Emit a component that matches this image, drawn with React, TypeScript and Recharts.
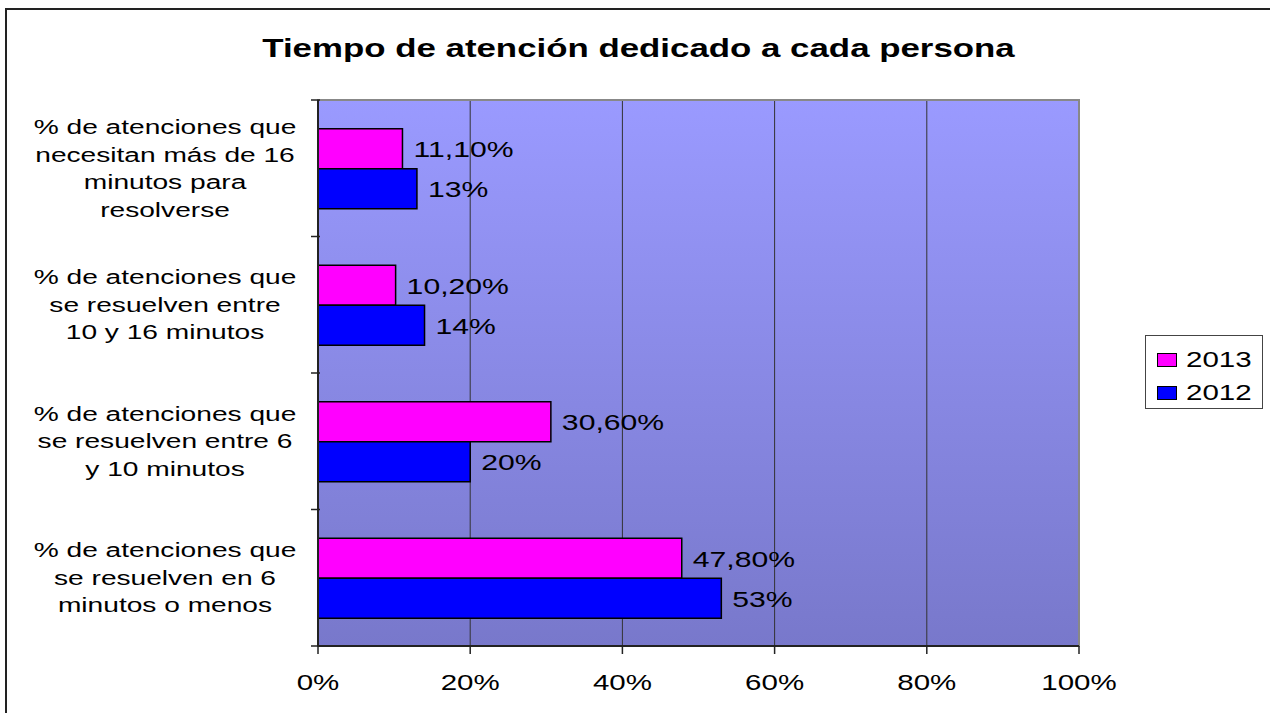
import {
  Bar,
  BarChart,
  CartesianGrid,
  LabelList,
  Legend,
  ReferenceArea,
  XAxis,
  YAxis,
} from 'recharts';

const categoryLines = [
  ['% de atenciones que', 'necesitan más de 16', 'minutos para', 'resolverse'],
  ['% de atenciones que', 'se resuelven entre', '10 y 16 minutos'],
  ['% de atenciones que', 'se resuelven entre 6', 'y 10 minutos'],
  ['% de atenciones que', 'se resuelven en 6', 'minutos o menos'],
];
const values2013 = [11.1, 10.2, 30.6, 47.8];
const values2012 = [13, 14, 20, 53];
const xTicks = [0, 20, 40, 60, 80, 100];
const legendOrder = ['2013', '2012'];

const data = categoryLines.map((lines, i) => ({
  name: lines.join('\n'),
  y2013: values2013[i],
  y2012: values2012[i],
}));

const FONT = '"Liberation Sans", Arial, sans-serif';
// the reference is stretched horizontally
const SX = 1.34;
const W = 1270;
const H = 713;
const MARGIN = { top: 100, right: 191, bottom: 0, left: 0 };
const Y_AXIS_W = 318;
const X_AXIS_H = 67;
const PLOT_H = H - MARGIN.top - X_AXIS_H;
const BAND = PLOT_H / categoryLines.length;
const LABEL_CX = 165;
const LINE_H = 27.5;

function YTick(props: any) {
  const { x, y, payload, index } = props;
  const lines = String(payload.value).split('\n');
  const top = y - ((lines.length - 1) * LINE_H) / 2;
  const axisX = x + 10;
  return (
    <g>
      <line x1={axisX - 9} x2={axisX} y1={y - BAND / 2} y2={y - BAND / 2} stroke="#222" strokeWidth={1.5} />
      {index === categoryLines.length - 1 && (
        <line x1={axisX - 9} x2={axisX} y1={y + BAND / 2} y2={y + BAND / 2} stroke="#222" strokeWidth={1.5} />
      )}
      {lines.map((line, i) => (
        <text
          key={i}
          transform={`translate(${LABEL_CX},${top + i * LINE_H}) scale(${SX},1)`}
          textAnchor="middle"
          dominantBaseline="central"
          fontFamily={FONT}
          fontSize={21}
          fill="#000"
        >
          {line}
        </text>
      ))}
    </g>
  );
}

function XTick(props: any) {
  const { x, y, payload } = props;
  return (
    <text
      transform={`translate(${x},${y + 26}) scale(${SX},1)`}
      textAnchor="middle"
      dominantBaseline="central"
      fontFamily={FONT}
      fontSize={22}
      fill="#000"
    >
      {`${payload.value}%`}
    </text>
  );
}

function makeLabel(format: (v: number) => string) {
  return (props: any) => {
    const { x, y, width, height, value } = props;
    return (
      <text
        transform={`translate(${x + width + 11},${y + height / 2 + 1}) scale(${SX},1)`}
        textAnchor="start"
        dominantBaseline="central"
        fontFamily={FONT}
        fontSize={22.5}
        fill="#000"
      >
        {format(value)}
      </text>
    );
  };
}

const fmt2013 = (v: number) => `${v.toFixed(2).replace('.', ',')}%`;
const fmt2012 = (v: number) => `${v}%`;

function LegendBox(props: any) {
  const items = [...(props.payload || [])].sort(
    (a: any, b: any) => legendOrder.indexOf(a.value) - legendOrder.indexOf(b.value),
  );
  return (
    <div
      style={{
        width: 118,
        height: 74,
        boxSizing: 'border-box',
        border: '1.5px solid #444',
        background: '#fff',
        paddingTop: 9,
        paddingLeft: 11,
      }}
    >
      {items.map((entry: any) => (
        <div key={entry.value} style={{ display: 'flex', alignItems: 'center', height: 37, marginTop: -4 }}>
          <span
            style={{
              display: 'inline-block',
              width: 18,
              height: 12,
              background: entry.color,
              border: '1.5px solid #000',
            }}
          />
          <span
            style={{
              display: 'inline-block',
              marginLeft: 9,
              fontFamily: FONT,
              fontSize: 22,
              lineHeight: '22px',
              transform: `scaleX(${SX})`,
              transformOrigin: 'left center',
            }}
          >
            {entry.value}
          </span>
        </div>
      ))}
    </div>
  );
}

export default function App() {
  return (
    <div
      style={{
        position: 'absolute',
        left: 0,
        top: 0,
        width: W,
        height: H,
        overflow: 'hidden',
        background: '#fff',
      }}
    >
      <div
        style={{
          position: 'absolute',
          left: 5,
          top: 8,
          width: W + 50,
          height: H + 50,
          border: '2px solid #222',
        }}
      />
      <div
        style={{
          position: 'absolute',
          left: 0,
          top: 35,
          width: 1277,
          textAlign: 'center',
          fontFamily: FONT,
          fontWeight: 'bold',
          fontSize: 26,
          lineHeight: '26px',
          transform: `scaleX(${SX})`,
        }}
      >
        Tiempo de atención dedicado a cada persona
      </div>
      <div style={{ position: 'absolute', left: 0, top: 0 }}>
        <BarChart
          width={W}
          height={H}
          data={data}
          layout="vertical"
          margin={MARGIN}
          barCategoryGap="21%"
          barGap={0}
        >
          <defs>
            <linearGradient id="plotBg" x1="0" y1="0" x2="0" y2="1">
              <stop offset="0%" stopColor="#9a9aff" />
              <stop offset="100%" stopColor="#7878cb" />
            </linearGradient>
          </defs>
          <CartesianGrid
            horizontal={false}
            vertical
            stroke="#333"
            strokeWidth={1}
            fill="url(#plotBg)"
            fillOpacity={1}
          />
          <ReferenceArea x1={0} x2={100} fill="none" stroke="#888" strokeWidth={2} />
          <XAxis
            type="number"
            domain={[0, 100]}
            ticks={xTicks}
            height={X_AXIS_H}
            tickSize={8}
            tickLine={{ stroke: '#222', strokeWidth: 1.5 }}
            axisLine={{ stroke: '#222', strokeWidth: 2 }}
            tick={<XTick />}
          />
          <YAxis
            type="category"
            dataKey="name"
            width={Y_AXIS_W}
            interval={0}
            tickLine={false}
            axisLine={{ stroke: '#222', strokeWidth: 2 }}
            tick={<YTick />}
          />
          <Legend
            layout="vertical"
            align="center"
            verticalAlign="middle"
            wrapperStyle={{ left: 1145, top: 335, width: 118, height: 74 }}
            content={<LegendBox />}
          />
          <Bar dataKey="y2013" name="2013" fill="#ff00ff" stroke="#000" strokeWidth={1.5} isAnimationActive={false}>
            <LabelList dataKey="y2013" content={makeLabel(fmt2013)} />
          </Bar>
          <Bar dataKey="y2012" name="2012" fill="#0000ff" stroke="#000" strokeWidth={1.5} isAnimationActive={false}>
            <LabelList dataKey="y2012" content={makeLabel(fmt2012)} />
          </Bar>
        </BarChart>
      </div>
    </div>
  );
}
